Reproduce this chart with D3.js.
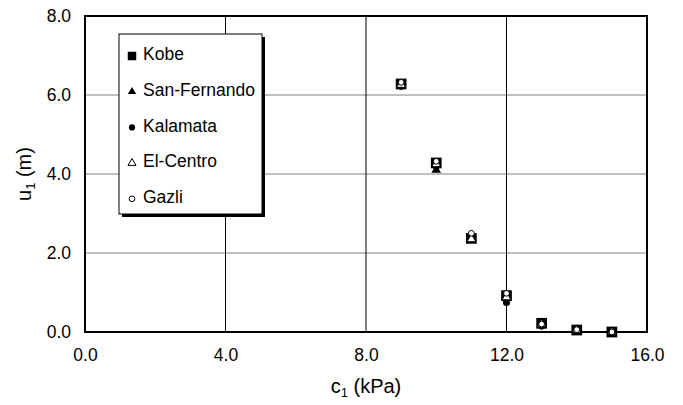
<!DOCTYPE html>
<html>
<head>
<meta charset="utf-8">
<script src="https://cdn.jsdelivr.net/npm/d3@7"></script>
<style>
  body { margin: 0; background: #fff; }
  text { font-family: Arial, "Liberation Sans", sans-serif; fill: #000; }
</style>
</head>
<body>
<script>
// Daten: Kohäsion c1 (kPa) und Verschiebung u1 (m)
const cohesion = [9, 10, 11, 12, 13, 14, 15];
const kobe = [6.28, 4.28, 2.37, 0.92, 0.22, 0.05, 0.0];
const sanFernando = [6.24, 4.1, 2.35, 0.87, 0.19, 0.04, 0.0];
const kalamata = [6.22, 4.2, 2.34, 0.75, 0.15, 0.03, 0.0];
const elCentro = [6.26, 4.25, 2.35, 0.88, 0.2, 0.05, 0.0];
const gazli = [6.32, 4.32, 2.5, 0.98, 0.2, 0.06, 0.0];
const seriesNames = ["Kobe", "San-Fernando", "Kalamata", "El-Centro", "Gazli"];
const xTicks = [0, 4, 8, 12, 16];
const yTicks = [0, 2, 4, 6, 8];

const series = [kobe, sanFernando, kalamata, elCentro, gazli].map((vals, i) => ({
    name: seriesNames[i],
    points: vals.map((v, j) => ({c: cohesion[j], u: v}))
}));

const width = 683, height = 405;
const plot = {left: 85, right: 647, top: 16, bottom: 332};

const svg = d3.select("body").append("svg")
    .attr("width", width)
    .attr("height", height);

// Skalen
const x = d3.scaleLinear().domain([0, 16]).range([plot.left, plot.right]);
const y = d3.scaleLinear().domain([0, 8]).range([plot.bottom, plot.top]);

// Gitterlinien
svg.append("g")
    .selectAll("line")
    .data(yTicks.slice(1, -1))
    .join("line")
    .attr("x1", plot.left).attr("x2", plot.right)
    .attr("y1", d => y(d)).attr("y2", d => y(d))
    .attr("stroke", "#808080")
    .attr("stroke-width", 1);

svg.append("g")
    .selectAll("line")
    .data(xTicks.slice(1, -1))
    .join("line")
    .attr("x1", d => x(d)).attr("x2", d => x(d))
    .attr("y1", plot.top).attr("y2", plot.bottom)
    .attr("stroke", "#000")
    .attr("stroke-width", 1);

// Rahmen
svg.append("rect")
    .attr("x", plot.left).attr("y", plot.top)
    .attr("width", plot.right - plot.left)
    .attr("height", plot.bottom - plot.top)
    .attr("fill", "none")
    .attr("stroke", "#000")
    .attr("stroke-width", 2);

// Achsen (nur Beschriftungen)
const xAxis = svg.append("g")
    .attr("transform", `translate(0,${plot.bottom})`)
    .call(d3.axisBottom(x).tickValues(xTicks).tickFormat(d3.format(".1f")).tickSize(0).tickPadding(17));
const yAxis = svg.append("g")
    .attr("transform", `translate(${plot.left},0)`)
    .call(d3.axisLeft(y).tickValues(yTicks).tickFormat(d3.format(".1f")).tickSize(0).tickPadding(14));
[xAxis, yAxis].forEach(a => {
    a.select(".domain").remove();
    a.selectAll("text").style("font-size", "17.5px").style("font-family", "Arial, 'Liberation Sans', sans-serif");
});

// Achsentitel
const xt = svg.append("text")
    .attr("x", x(8)).attr("y", 393)
    .attr("text-anchor", "middle")
    .style("font-size", "20px");
xt.append("tspan").text("c");
xt.append("tspan").attr("dy", 4).style("font-size", "13px").text("1");
xt.append("tspan").attr("dy", -4).text(" (kPa)");

const yt = svg.append("text")
    .attr("transform", `translate(31,${y(4)}) rotate(-90)`)
    .attr("text-anchor", "middle")
    .style("font-size", "20px");
yt.append("tspan").text("u");
yt.append("tspan").attr("dy", 4).style("font-size", "13px").text("1");
yt.append("tspan").attr("dy", -4).text(" (m)");

// Marker
const sym = {
    "Kobe": {type: d3.symbolSquare, size: 115, fill: "#000", stroke: "none", lsize: 72},
    "San-Fernando": {type: d3.symbolTriangle, size: 40, fill: "#000", stroke: "none", lsize: 30},
    "Kalamata": {type: d3.symbolCircle, size: 40, fill: "#000", stroke: "none", lsize: 30},
    "El-Centro": {type: d3.symbolTriangle, size: 34, fill: "#fff", stroke: "#000", lsize: 28},
    "Gazli": {type: d3.symbolCircle, size: 26, fill: "#fff", stroke: "#000", lsize: 26}
};

series.forEach(s => {
    const m = sym[s.name];
    svg.append("g")
        .selectAll("path")
        .data(s.points)
        .join("path")
        .attr("transform", d => `translate(${x(d.c)},${y(d.u)})`)
        .attr("d", d3.symbol().type(m.type).size(m.size))
        .attr("fill", m.fill)
        .attr("stroke", m.stroke)
        .attr("stroke-width", 1);
});

// Legende
const lg = {x: 119, y: 34, w: 143, h: 180};
svg.append("rect")
    .attr("x", lg.x + 3).attr("y", lg.y + 3)
    .attr("width", lg.w).attr("height", lg.h)
    .attr("fill", "#000");
svg.append("rect")
    .attr("x", lg.x).attr("y", lg.y)
    .attr("width", lg.w).attr("height", lg.h)
    .attr("fill", "#fff")
    .attr("stroke", "#000")
    .attr("stroke-width", 1);

const items = svg.append("g")
    .selectAll("g")
    .data(seriesNames)
    .join("g")
    .attr("transform", (d, i) => `translate(${lg.x},${lg.y + 20 + i * 35.7})`);
items.append("path")
    .attr("transform", "translate(13,2)")
    .attr("d", d => d3.symbol().type(sym[d].type).size(sym[d].lsize)())
    .attr("fill", d => sym[d].fill)
    .attr("stroke", d => sym[d].stroke)
    .attr("stroke-width", 1);
items.append("text")
    .attr("x", 24).attr("y", 0)
    .attr("dy", "0.35em")
    .style("font-size", "17.5px")
    .text(d => d);
</script>
</body>
</html>
